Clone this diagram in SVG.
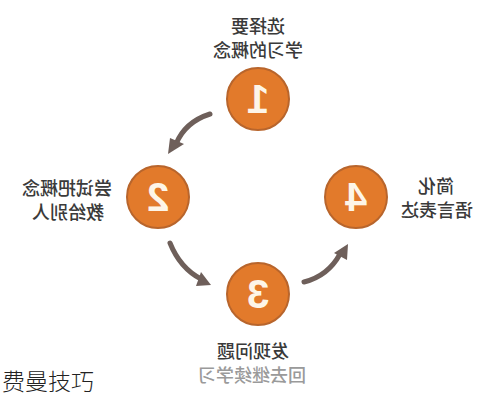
<svg xmlns="http://www.w3.org/2000/svg" width="489" height="400" viewBox="0 0 489 400">
<defs>
<style>
.c{fill:#e27a2b;stroke:#b8652c;stroke-width:2}
.n{font-family:"Liberation Sans","DejaVu Sans",sans-serif;font-weight:bold;font-size:40px;fill:#fdf5e8;text-anchor:middle}
.t{font-family:"Noto Sans CJK SC",sans-serif;font-size:18px;fill:#3a3a3a;text-anchor:middle;font-weight:500}
.g{fill:#9a9a9a}
.a{fill:none;stroke:#6e5f5a;stroke-width:5;stroke-linecap:round}
.h{fill:#6e5f5a}
</style>
</defs>
<rect width="489" height="400" fill="#ffffff"/>
<g id="connectors">
<path class="a" d="M210,114 Q185,122 176,144"/>
<polygon class="h" points="168,154 170,138 184,144"/>
<path class="a" d="M170,243 Q180,268 201,279"/>
<polygon class="h" points="211,285 196,286 201,272"/>
<path class="a" d="M304,282 Q328,276 340,254"/>
<polygon class="h" points="348,244 347,260 334,253"/>
</g>
<g id="node1">
<circle class="c" cx="258" cy="99" r="31"/>
<text class="n" transform="translate(258,113) scale(-1,1)">1</text>
<text class="t" transform="translate(258,33) scale(-1,1)">选择要</text>
<text class="t" transform="translate(258,57) scale(-1,1)">学习的概念</text>
</g>
<g id="node2">
<circle class="c" cx="158" cy="197" r="31"/>
<text class="n" transform="translate(158,211) scale(-1,1)">2</text>
<text class="t" transform="translate(67,195) scale(-1,1)">尝试把概念</text>
<text class="t" transform="translate(68,219) scale(-1,1)">教给别人</text>
</g>
<g id="node3">
<circle class="c" cx="258" cy="294" r="31"/>
<text class="n" transform="translate(258,308) scale(-1,1)">3</text>
<text class="t" transform="translate(253,358) scale(-1,1)" font-weight="bold">发现问题</text>
<text class="t g" transform="translate(252,382) scale(-1,1)">回去继续学习</text>
</g>
<g id="node4">
<circle class="c" cx="356" cy="197" r="31"/>
<text class="n" transform="translate(356,211) scale(-1,1)">4</text>
<text class="t" transform="translate(436,193) scale(-1,1)">简化</text>
<text class="t" transform="translate(437,217) scale(-1,1)">语言表达</text>
</g>
<g id="title">
<text x="2" y="390" font-family="Noto Sans CJK SC,sans-serif" font-size="23" font-weight="300" fill="#222">费曼技巧</text>
</g>
</svg>
